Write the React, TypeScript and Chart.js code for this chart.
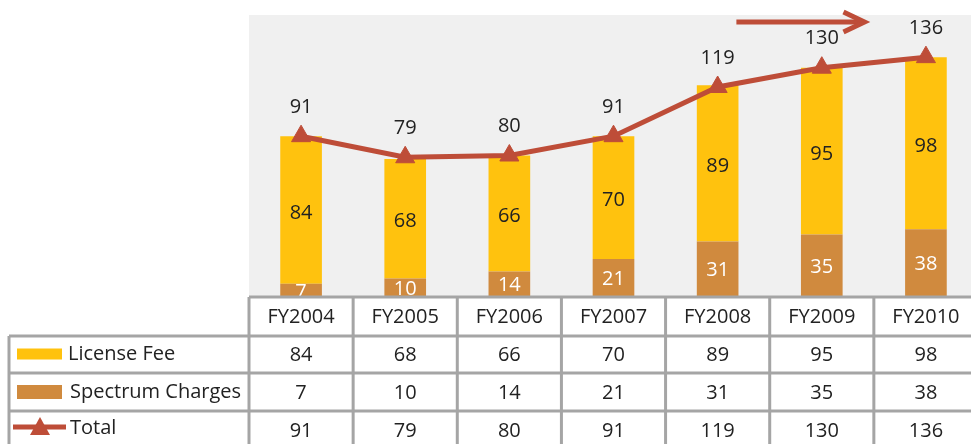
import React, { useEffect, useRef } from "react";
import { Chart, registerables } from "chart.js";

Chart.register(...registerables);

const categories = ["FY2004", "FY2005", "FY2006", "FY2007", "FY2008", "FY2009", "FY2010"];
const licenseFee = [84, 68, 66, 70, 89, 95, 98];
const spectrumCharges = [7, 10, 14, 21, 31, 35, 38];
const totals = [91, 79, 80, 91, 119, 130, 136];
const seriesNames = ["License Fee", "Spectrum Charges", "Total"];

const YELLOW = "#FFC20E";
const ORANGE = "#D08A3E";
const RED = "#BE4D38";
const GRID = "#A5A5A5";
const TEXT = "#222222";
const FONT = "20px 'Open Sans'";

const bgPlugin = {
  id: "plotBg",
  beforeDraw(chart: any) {
    const { ctx, chartArea } = chart;
    ctx.save();
    ctx.fillStyle = "#F0F0F0";
    ctx.fillRect(chartArea.left, chartArea.top, chartArea.right - chartArea.left, chartArea.bottom - chartArea.top);
    ctx.restore();
  },
};

const labelsPlugin = {
  id: "valueLabels",
  afterDatasetsDraw(chart: any) {
    const { ctx } = chart;
    ctx.save();
    ctx.font = FONT;
    ctx.textAlign = "center";
    ctx.textBaseline = "middle";
    chart.getDatasetMeta(0).data.forEach((bar: any, i: number) => {
      const cy = (bar.y + bar.base) / 2 + 2;
      ctx.fillStyle = "#FFFFFF";
      ctx.fillText(String(spectrumCharges[i]), bar.x, cy);
    });
    chart.getDatasetMeta(1).data.forEach((bar: any, i: number) => {
      const cy = (bar.y + bar.base) / 2 + 3;
      ctx.fillStyle = TEXT;
      ctx.fillText(String(licenseFee[i]), bar.x, cy);
    });
    chart.getDatasetMeta(2).data.forEach((pt: any, i: number) => {
      ctx.fillStyle = TEXT;
      ctx.fillText(String(totals[i]), pt.x, pt.y - 29);
    });
    ctx.restore();
  },
};

const arrowPlugin = {
  id: "trendArrow",
  afterDatasetsDraw(chart: any) {
    const { ctx } = chart;
    const xs = chart.scales.x;
    const ys = chart.scales.y;
    const step = xs.getPixelForValue(1) - xs.getPixelForValue(0);
    const x0 = xs.getPixelForValue(4) + 0.18 * step;
    const x1 = xs.getPixelForValue(5) + 0.41 * step;
    const y = ys.getPixelForValue(156);
    ctx.save();
    ctx.strokeStyle = RED;
    ctx.lineWidth = 5;
    ctx.beginPath();
    ctx.moveTo(x0, y);
    ctx.lineTo(x1 - 4, y);
    ctx.stroke();
    ctx.beginPath();
    ctx.moveTo(x1 - 21, y - 10);
    ctx.lineTo(x1, y);
    ctx.lineTo(x1 - 21, y + 10);
    ctx.stroke();
    ctx.restore();
  },
};

const tablePlugin = {
  id: "dataTable",
  afterDraw(chart: any) {
    const { ctx, chartArea } = chart;
    const xs = chart.scales.x;
    const n = categories.length;
    const step = xs.getPixelForValue(1) - xs.getPixelForValue(0);
    const colL = (i: number) => xs.getPixelForValue(i) - step / 2;
    const top = chartArea.bottom + 1;
    const rows = [top, top + 39, top + 76, top + 114, top + 152];
    const legendLeft = 9;
    const right = colL(n);
    ctx.save();
    ctx.fillStyle = "#FFFFFF";
    ctx.fillRect(colL(0), rows[0], right - colL(0), rows[1] - rows[0]);
    ctx.fillRect(legendLeft, rows[1], right - legendLeft, rows[4] - rows[1]);
    ctx.strokeStyle = GRID;
    ctx.lineWidth = 3;
    ctx.beginPath();
    ctx.moveTo(colL(0), rows[0]);
    ctx.lineTo(right, rows[0]);
    for (let r = 1; r < rows.length; r++) {
      ctx.moveTo(legendLeft, rows[r]);
      ctx.lineTo(right, rows[r]);
    }
    for (let i = 0; i <= n; i++) {
      ctx.moveTo(colL(i), rows[0]);
      ctx.lineTo(colL(i), rows[4]);
    }
    ctx.moveTo(legendLeft, rows[1]);
    ctx.lineTo(legendLeft, rows[4]);
    ctx.stroke();
    ctx.font = FONT;
    ctx.fillStyle = TEXT;
    ctx.textBaseline = "middle";
    ctx.textAlign = "center";
    const rowVals = [licenseFee, spectrumCharges, totals];
    for (let i = 0; i < n; i++) {
      const cx = xs.getPixelForValue(i);
      ctx.fillText(categories[i], cx, (rows[0] + rows[1]) / 2 + 1);
      rowVals.forEach((vals, r) => {
        ctx.fillText(String(vals[i]), cx, (rows[r + 1] + rows[r + 2]) / 2 + 1);
      });
    }
    ctx.textAlign = "left";
    const c1 = (rows[1] + rows[2]) / 2;
    const c2 = (rows[2] + rows[3]) / 2;
    const c3 = (rows[3] + rows[4]) / 2;
    ctx.fillStyle = YELLOW;
    ctx.fillRect(17, c1 - 6, 45, 11);
    ctx.fillStyle = ORANGE;
    ctx.fillRect(17, c2 - 7, 45, 14);
    ctx.strokeStyle = RED;
    ctx.lineWidth = 5;
    ctx.beginPath();
    ctx.moveTo(13, c3 - 3);
    ctx.lineTo(66, c3 - 3);
    ctx.stroke();
    ctx.fillStyle = RED;
    ctx.beginPath();
    ctx.moveTo(40, c3 - 13);
    ctx.lineTo(50, c3 + 5);
    ctx.lineTo(30, c3 + 5);
    ctx.closePath();
    ctx.fill();
    ctx.fillStyle = TEXT;
    ctx.fillText(seriesNames[0], 68, c1);
    ctx.fillText(seriesNames[1], 70, c2);
    ctx.fillText(seriesNames[2], 70, c3 - 2);
    ctx.restore();
  },
};

export default function App() {
  const ref = useRef<HTMLCanvasElement>(null);
  useEffect(() => {
    if (!ref.current) return;
    const chart = new Chart(ref.current, {
      type: "bar",
      data: {
        labels: categories,
        datasets: [
          {
            type: "bar",
            label: seriesNames[1],
            data: spectrumCharges,
            backgroundColor: ORANGE,
            stack: "bars",
            order: 1,
            barPercentage: 0.4,
            categoryPercentage: 1,
          },
          {
            type: "bar",
            label: seriesNames[0],
            data: licenseFee,
            backgroundColor: YELLOW,
            stack: "bars",
            order: 1,
            barPercentage: 0.4,
            categoryPercentage: 1,
          },
          {
            type: "line",
            label: seriesNames[2],
            data: totals,
            borderColor: RED,
            backgroundColor: RED,
            borderWidth: 5,
            pointStyle: "triangle",
            pointRadius: 11,
            pointBorderWidth: 1,
            pointBackgroundColor: RED,
            pointBorderColor: RED,
            stack: "line",
            order: 0,
            tension: 0,
          } as any,
        ],
      },
      options: {
        animation: false,
        responsive: false,
        maintainAspectRatio: false,
        layout: { padding: { left: 249, right: 6, top: 15, bottom: 148 } },
        plugins: { legend: { display: false }, tooltip: { enabled: false } },
        scales: {
          x: { display: false, stacked: true, offset: true },
          y: { display: false, stacked: true, min: 0, max: 160 },
        },
      },
      plugins: [bgPlugin, labelsPlugin, arrowPlugin, tablePlugin],
    });
    return () => chart.destroy();
  }, []);
  return (
    <div style={{ position: "fixed", left: 0, top: 0, width: 971, height: 444, overflow: "hidden", background: "#fff" }}>
      <canvas ref={ref} width={990} height={444} style={{ width: 990, height: 444, display: "block" }} />
    </div>
  );
}
